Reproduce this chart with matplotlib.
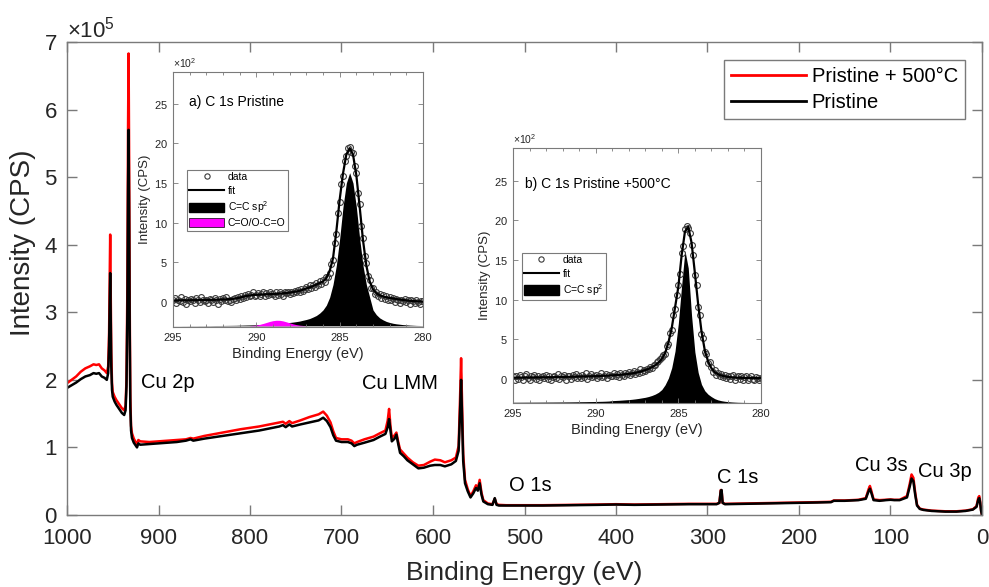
import numpy as np
import matplotlib
matplotlib.use('Agg')
import matplotlib.pyplot as plt
from matplotlib.ticker import ScalarFormatter, MultipleLocator
from matplotlib.lines import Line2D
from matplotlib.patches import Patch

plt.rcParams['font.family'] = ['Liberation Sans', 'DejaVu Sans']
plt.rcParams['mathtext.fontset'] = 'custom'
plt.rcParams['mathtext.rm'] = 'Liberation Sans'
plt.rcParams['mathtext.it'] = 'Liberation Sans:italic'
plt.rcParams['mathtext.bf'] = 'Liberation Sans:bold'

# ---------------- survey spectrum (intensity in units of 1e5 CPS) ----------------
survey_be = [1000, 995, 990, 985, 980, 975, 971, 968, 965, 962,
             959, 956.5, 955, 954, 953.3, 952.8, 952.3, 951.6, 950.8, 950,
             948, 946, 943, 940, 937.5, 936, 935, 934, 933.3, 932.7,
             932.1, 931.5, 930.8, 930, 929, 927, 925, 923.5, 922, 920,
             910, 900, 880, 870, 865, 862, 850, 830, 810, 790,
             775, 768, 764, 761, 757, 754, 745, 735, 725, 720,
             716, 712, 709, 706, 700, 693, 689, 686, 683, 675,
             665, 658, 652, 649.5, 648, 646.5, 645, 642, 640, 638,
             636, 632, 628, 622, 616, 610, 603, 598, 592, 587,
             580, 575, 572, 570.5, 569.3, 568.3, 567, 565, 562, 559,
             556, 553, 551, 549, 547, 545, 540, 535, 532.5, 530.5,
             528, 520, 500, 480, 450, 420, 400, 380, 350, 320,
             300, 290, 287, 285.5, 284.6, 283.5, 281, 260, 240, 220,
             200, 180, 165, 162, 150, 135, 127, 124, 122.5, 121,
             118.5, 112, 105, 100, 96, 90, 82, 79, 77, 75,
             73, 71, 68, 64, 55, 40, 28, 18, 10, 6,
             4, 3, 2, 1, 0]
pristine = [1.88, 1.92, 1.96, 2.01, 2.05, 2.07, 2.10, 2.09, 2.10, 2.05,
            2.03, 2.00, 2.10, 2.50, 3.20, 3.58, 3.00, 2.20, 1.85, 1.75,
            1.68, 1.63, 1.57, 1.51, 1.48, 1.55, 1.90, 3.00, 4.80, 5.70,
            4.50, 2.80, 1.60, 1.25, 1.14, 1.07, 1.03, 1.00, 1.06, 1.04,
            1.05, 1.06, 1.08, 1.10, 1.12, 1.10, 1.13, 1.17, 1.21, 1.25,
            1.29, 1.31, 1.33, 1.30, 1.34, 1.31, 1.34, 1.37, 1.40, 1.44,
            1.39, 1.30, 1.18, 1.10, 1.08, 1.08, 1.06, 1.02, 1.04, 1.07,
            1.11, 1.16, 1.20, 1.30, 1.42, 1.25, 1.09, 1.13, 1.19, 1.05,
            0.92, 0.87, 0.81, 0.75, 0.69, 0.70, 0.73, 0.74, 0.74, 0.72,
            0.75, 0.80, 0.95, 1.50, 2.00, 1.50, 0.80, 0.47, 0.35, 0.26,
            0.32, 0.40, 0.36, 0.47, 0.30, 0.20, 0.16, 0.15, 0.25, 0.15,
            0.14, 0.14, 0.14, 0.14, 0.145, 0.15, 0.155, 0.15, 0.155, 0.16,
            0.16, 0.16, 0.18, 0.36, 0.37, 0.18, 0.16, 0.165, 0.17, 0.175,
            0.18, 0.185, 0.19, 0.21, 0.21, 0.22, 0.24, 0.35, 0.39, 0.33,
            0.22, 0.21, 0.22, 0.225, 0.22, 0.22, 0.26, 0.42, 0.54, 0.50,
            0.30, 0.14, 0.09, 0.075, 0.06, 0.05, 0.05, 0.06, 0.08, 0.12,
            0.23, 0.25, 0.18, 0.06, 0.0]
pristine_500 = [1.95, 2.00, 2.05, 2.12, 2.17, 2.20, 2.23, 2.22, 2.23, 2.17,
                2.14, 2.10, 2.20, 2.70, 3.60, 4.15, 3.40, 2.40, 1.95, 1.82,
                1.75, 1.70, 1.64, 1.58, 1.55, 1.62, 2.00, 3.40, 5.70, 6.83,
                5.30, 3.20, 1.75, 1.32, 1.21, 1.13, 1.08, 1.05, 1.11, 1.09,
                1.08, 1.09, 1.11, 1.12, 1.14, 1.13, 1.17, 1.22, 1.27, 1.31,
                1.35, 1.37, 1.38, 1.35, 1.39, 1.36, 1.40, 1.45, 1.49, 1.53,
                1.47, 1.37, 1.24, 1.14, 1.12, 1.12, 1.10, 1.06, 1.08, 1.12,
                1.16, 1.21, 1.25, 1.40, 1.57, 1.32, 1.14, 1.18, 1.22, 1.08,
                0.97, 0.91, 0.85, 0.78, 0.73, 0.74, 0.79, 0.82, 0.81, 0.78,
                0.81, 0.85, 1.02, 1.70, 2.32, 1.70, 0.90, 0.52, 0.38, 0.28,
                0.35, 0.44, 0.39, 0.52, 0.33, 0.22, 0.17, 0.16, 0.24, 0.16,
                0.15, 0.145, 0.145, 0.145, 0.15, 0.155, 0.16, 0.155, 0.16, 0.165,
                0.165, 0.165, 0.18, 0.37, 0.36, 0.18, 0.165, 0.17, 0.175, 0.18,
                0.185, 0.19, 0.195, 0.215, 0.215, 0.225, 0.25, 0.38, 0.43, 0.36,
                0.23, 0.22, 0.225, 0.23, 0.225, 0.225, 0.28, 0.46, 0.60, 0.55,
                0.33, 0.15, 0.095, 0.08, 0.065, 0.055, 0.055, 0.065, 0.085, 0.13,
                0.26, 0.28, 0.20, 0.07, 0.0]
series_labels = ['Pristine + 500°C', 'Pristine']

peak_labels = ['Cu 2p', 'Cu LMM', 'O 1s', 'C 1s', 'Cu 3s', 'Cu 3p']
peak_label_be = [919.3, 677.6, 516.9, 290.0, 138.8, 69.6]
peak_label_y = [1.88, 1.865, 0.355, 0.474, 0.651, 0.562]

# ---------------- C 1s insets (intensity in units of 1e2 CPS) ----------------
data_be = np.linspace(295.0, 280.0, 151)     # 0.1 eV steps
fit_be = np.linspace(295.0, 280.0, 76)       # 0.2 eV steps

data_a = [0.2, 0.5, -0.1, 0.3, 0.1, 0.6, 0.0, 0.4, -0.2, 0.3,
          0.1, 0.4, 0.2, -0.1, 0.5, 0.3, 0.0, 0.6, 0.2, 0.1,
          0.3, -0.1, 0.4, 0.2, 0.0, 0.5, 0.3, -0.2, 0.4, 0.1,
          0.5, 0.2, 0.6, 0.1, 0.3, 0.0, 0.4, 0.5, 0.2, 0.6,
          0.4, 0.7, 0.5, 0.9, 0.6, 1.0, 0.7, 0.9, 1.2, 0.8,
          0.9, 1.1, 0.7, 1.0, 1.3, 0.8, 1.1, 0.9, 1.2, 1.0,
          1.0, 0.7, 1.2, 0.9, 1.3, 1.0, 0.8, 1.2, 1.1, 1.3,
          1.0, 1.3, 1.1, 1.4, 1.2, 1.5, 1.3, 1.6, 1.4, 1.7,
          1.9, 1.6, 2.1, 1.8, 2.2, 1.9, 2.4, 2.1, 2.6, 2.3,
          2.8, 2.5, 3.2, 3.1, 3.7, 4.8, 5.3, 7.4, 8.6, 11.2,
          12.6, 14.9, 15.9, 17.8, 18.4, 19.4, 19.6, 18.9, 18.8, 17.2,
          16.3, 13.7, 12.3, 9.6, 8.1, 5.8, 4.9, 3.3, 2.8, 1.8,
          1.8, 1.0, 1.3, 0.7, 1.0, 0.5, 0.9, 0.4, 0.8, 0.3,
          0.6, 0.2, 0.5, 0.0, 0.4, 0.3, -0.1, 0.3, 0.1, 0.4,
          0.0, 0.3, -0.2, 0.2, 0.1, -0.1, 0.3, 0.0, -0.2, 0.1,
          0.1]
fit_a = [0.20, 0.20, 0.21, 0.21, 0.22, 0.22, 0.23, 0.23, 0.24, 0.25,
         0.26, 0.27, 0.28, 0.29, 0.30, 0.32, 0.34, 0.36, 0.40, 0.46,
         0.55, 0.66, 0.76, 0.83, 0.88, 0.91, 0.93, 0.95, 0.97, 0.99,
         1.00, 1.03, 1.06, 1.10, 1.14, 1.19, 1.25, 1.33, 1.42, 1.55,
         1.70, 1.85, 2.00, 2.20, 2.40, 2.60, 3.00, 3.90, 5.50, 8.90,
         12.9, 16.2, 18.6, 19.4, 18.6, 16.0, 12.0, 7.8, 4.6, 2.6,
         1.6, 1.1, 0.85, 0.70, 0.60, 0.52, 0.45, 0.38, 0.32, 0.26,
         0.20, 0.16, 0.12, 0.10, 0.08, 0.06]
sp2_a = [0.01, 0.01, 0.01, 0.015, 0.015, 0.02, 0.02, 0.02, 0.025, 0.025,
         0.03, 0.03, 0.035, 0.04, 0.04, 0.045, 0.05, 0.055, 0.06, 0.065,
         0.08, 0.09, 0.10, 0.11, 0.12, 0.14, 0.16, 0.18, 0.20, 0.22,
         0.24, 0.27, 0.30, 0.33, 0.37, 0.42, 0.47, 0.53, 0.60, 0.70,
         0.80, 0.92, 1.10, 1.30, 1.60, 2.00, 2.60, 3.60, 5.20, 7.60,
         11.0, 15.0, 18.0, 19.3, 18.0, 15.0, 11.0, 7.6, 5.2, 3.6,
         2.0, 1.4, 1.0, 0.75, 0.55, 0.42, 0.32, 0.25, 0.20, 0.15,
         0.12, 0.09, 0.07, 0.05, 0.04, 0.03]
co_be = np.linspace(290.4, 287.0, 18)
co_a = [0.02, 0.05, 0.10, 0.18, 0.29, 0.42, 0.55, 0.65, 0.70,
        0.69, 0.62, 0.50, 0.37, 0.25, 0.15, 0.08, 0.04, 0.01]

data_b = [0.3, -0.1, 0.4, 0.0, 0.5, 0.2, -0.2, 0.3, 0.6, 0.1,
          -0.1, 0.4, 0.2, 0.5, 0.0, 0.3, -0.2, 0.2, 0.4, 0.1,
          0.5, 0.0, 0.3, -0.1, 0.2, 0.4, 0.1, 0.6, 0.0, 0.3,
          0.2, 0.5, -0.1, 0.3, 0.4, 0.0, 0.5, 0.2, 0.6, 0.1,
          0.4, 0.1, 0.5, 0.2, 0.7, 0.0, 0.3, 0.6, 0.2, 0.4,
          0.5, 0.1, 0.4, 0.7, 0.2, 0.3, 0.6, 0.1, 0.5, 0.4,
          0.3, 0.7, 0.4, 0.6, 0.2, 0.8, 0.5, 0.3, 0.7, 0.6,
          0.9, 0.5, 0.7, 1.0, 0.6, 0.9, 0.8, 1.2, 0.9, 1.1,
          1.0, 1.3, 1.2, 1.5, 1.4, 1.8, 1.7, 2.1, 2.2, 2.5,
          2.7, 3.0, 3.1, 4.2, 4.4, 5.8, 6.2, 8.0, 8.8, 10.6,
          11.9, 13.3, 15.9, 16.8, 18.9, 19.3, 19.0, 18.4, 16.9, 15.6,
          13.1, 11.8, 9.1, 8.0, 5.7, 5.1, 3.4, 3.2, 2.0, 2.1,
          1.5, 0.9, 1.1, 0.5, 0.8, 0.3, 0.6, 0.2, 0.5, 0.1,
          0.4, 0.0, 0.3, 0.5, -0.1, 0.2, 0.4, 0.0, 0.3, -0.2,
          0.2, 0.4, -0.1, 0.1, 0.3, 0.0, -0.2, 0.2, 0.1, -0.1,
          0.1]
fit_b = [0.15, 0.15, 0.16, 0.16, 0.17, 0.17, 0.18, 0.18, 0.19, 0.19,
         0.20, 0.20, 0.21, 0.22, 0.23, 0.24, 0.25, 0.26, 0.27, 0.28,
         0.29, 0.30, 0.31, 0.32, 0.33, 0.34, 0.36, 0.38, 0.40, 0.42,
         0.44, 0.47, 0.50, 0.54, 0.58, 0.63, 0.69, 0.76, 0.85, 0.96,
         1.10, 1.26, 1.46, 1.72, 2.05, 2.50, 3.25, 4.60, 6.40, 9.00,
         11.6, 15.6, 18.6, 19.2, 17.2, 13.4, 9.4, 6.0, 3.6, 2.2,
         1.35, 0.85, 0.58, 0.42, 0.32, 0.25, 0.20, 0.17, 0.15, 0.13,
         0.12, 0.11, 0.10, 0.10, 0.09, 0.09]
sp2_b = [0.043, 0.045, 0.047, 0.049, 0.051, 0.053, 0.055, 0.057, 0.059, 0.062,
         0.065, 0.068, 0.071, 0.074, 0.077, 0.081, 0.085, 0.089, 0.094, 0.10,
         0.11, 0.115, 0.12, 0.13, 0.135, 0.145, 0.155, 0.165, 0.18, 0.20,
         0.25, 0.27, 0.29, 0.32, 0.35, 0.38, 0.42, 0.47, 0.53, 0.60,
         0.67, 0.77, 0.90, 1.07, 1.30, 1.65, 2.25, 3.10, 4.40, 6.50,
         10.0, 14.8, 19.2, 17.0, 11.0, 6.4, 3.8, 2.3, 1.5, 1.05,
         0.75, 0.50, 0.34, 0.24, 0.17, 0.12, 0.085, 0.06, 0.04, 0.03,
         0.02, 0.015, 0.01, 0.01, 0.005, 0.0]
component_base = -3.0

# ---------------- figure ----------------
W, H = 989, 587
fig = plt.figure(figsize=(W / 100, H / 100), dpi=100)
spine_col = '#7a7a7a'
txt_col = '#262626'

ax = fig.add_axes([67 / W, (H - 515) / H, 915 / W, 473 / H])
be = np.array(survey_be)
ax.plot(be, np.array(pristine_500) * 1e5, color='#ff0000', lw=1.8, label=series_labels[0])
ax.plot(be, np.array(pristine) * 1e5, color='black', lw=1.8, label=series_labels[1])
ax.set_xlim(1000, 0)
ax.set_ylim(0, 7e5)
ax.xaxis.set_major_locator(MultipleLocator(100))
ax.yaxis.set_major_locator(MultipleLocator(1e5))
fmt = ScalarFormatter(useMathText=True)
fmt.set_powerlimits((5, 5))
ax.yaxis.set_major_formatter(fmt)
ax.yaxis.get_offset_text().set_fontsize(16)
ax.yaxis.get_offset_text().set_color(txt_col)
ax.tick_params(direction='in', length=7, width=1, colors=spine_col, labelcolor=txt_col,
               labelsize=16, top=True, right=True)
ax.tick_params(axis='x', pad=9)
ax.tick_params(axis='y', pad=7)
for s in ax.spines.values():
    s.set_color(spine_col)
    s.set_linewidth(1.0)
ax.set_xlabel('Binding Energy (eV)', fontsize=19, color=txt_col)
ax.xaxis.set_label_coords(0.5, -0.098)
ax.xaxis.label.set_va('top')
ax.set_ylabel('Intensity (CPS)', fontsize=20, color=txt_col)
ax.yaxis.set_label_coords(-0.034, 0.575)

for lab, xb, yb in zip(peak_labels, peak_label_be, peak_label_y):
    ax.text(xb, yb * 1e5, lab, fontsize=14.5, color='black', ha='left', va='baseline')

leg = ax.legend(handles=[Line2D([], [], color='#ff0000', lw=2),
                         Line2D([], [], color='black', lw=2)],
                labels=series_labels, loc='upper right',
                bbox_to_anchor=((965 - 67) / 915, (515 - 60) / 473),
                borderaxespad=0, fontsize=14.5, fancybox=False, framealpha=1,
                edgecolor=spine_col, handlelength=3.7, handletextpad=0.3,
                labelspacing=0.35, borderpad=0.35)
leg.get_frame().set_linewidth(1.0)
for t in leg.get_texts():
    t.set_color('black')


def inset(rect_px, data, fit, sp2, title, title_xy, leg_anchor, co=None):
    l, r, t, b = rect_px
    axi = fig.add_axes([l / W, (H - b) / H, (r - l) / W, (b - t) / H])
    axi.fill_between(fit_be, component_base * 100,
                     (component_base + np.array(sp2)) * 100,
                     color='black', lw=0)
    handles = [Line2D([], [], ls='none', marker='o', mfc='none', mec='#3a3a3a', ms=3.8, mew=0.8),
               Line2D([], [], color='black', lw=1.5),
               Patch(facecolor='black', edgecolor='black')]
    labels = ['data', 'fit', 'C=C sp$^2$']
    if co is not None:
        axi.fill_between(co_be, component_base * 100,
                         (component_base + np.array(co)) * 100,
                         color='#ff00ff', lw=0)
        handles.append(Patch(facecolor='#ff00ff', edgecolor='black', lw=0.5))
        labels.append('C=O/O-C=O')
    axi.plot(data_be, np.array(data) * 100, ls='none', marker='o', mfc='none',
             mec='#3a3a3a', ms=4.2, mew=0.8)
    axi.plot(fit_be, np.array(fit) * 100, color='black', lw=1.6)
    axi.set_xlim(295, 280)
    axi.xaxis.set_major_locator(MultipleLocator(5))
    axi.xaxis.set_minor_locator(MultipleLocator(1))
    axi.yaxis.set_major_locator(MultipleLocator(500))
    f = ScalarFormatter(useMathText=True)
    f.set_powerlimits((2, 2))
    axi.yaxis.set_major_formatter(f)
    axi.yaxis.get_offset_text().set_fontsize(7.5)
    axi.yaxis.get_offset_text().set_color('#555555')
    axi.tick_params(which='both', direction='in', colors=spine_col, labelcolor=txt_col,
                    labelsize=8, top=True, right=True, width=0.6)
    axi.tick_params(which='major', length=3.5, pad=4)
    axi.tick_params(which='minor', length=2)
    for s in axi.spines.values():
        s.set_color(spine_col)
        s.set_linewidth(0.8)
    axi.set_xlabel('Binding Energy (eV)', fontsize=10.5, color=txt_col, labelpad=3)
    axi.set_ylabel('Intensity (CPS)', fontsize=9.5, color=txt_col, labelpad=2)
    axi.text(title_xy[0], title_xy[1], title, transform=axi.transAxes, fontsize=10,
             color='black', ha='left', va='center')
    lg = axi.legend(handles=handles, labels=labels, loc='upper left',
                    bbox_to_anchor=leg_anchor, borderaxespad=0, fontsize=7.5,
                    fancybox=False, framealpha=1, edgecolor=spine_col,
                    handlelength=3.3, handleheight=1.0, handletextpad=0.4,
                    labelspacing=0.3, borderpad=0.25, numpoints=1)
    lg.get_frame().set_linewidth(0.8)
    return axi


axa = inset((173, 423, 72, 327), data_a, fit_a, sp2_a, 'a) C 1s Pristine',
            (0.064, 0.882), (0.055, 0.617), co=co_a)
axa.set_ylim(-3.15 * 100, 29.0 * 100)
axb = inset((513, 761, 148, 403), data_b, fit_b, sp2_b, 'b) C 1s Pristine +500°C',
            (0.048, 0.859), (0.035, 0.59))
axb.set_ylim(-3.05 * 100, 29.15 * 100)

fig.savefig('out.png', dpi=100)
